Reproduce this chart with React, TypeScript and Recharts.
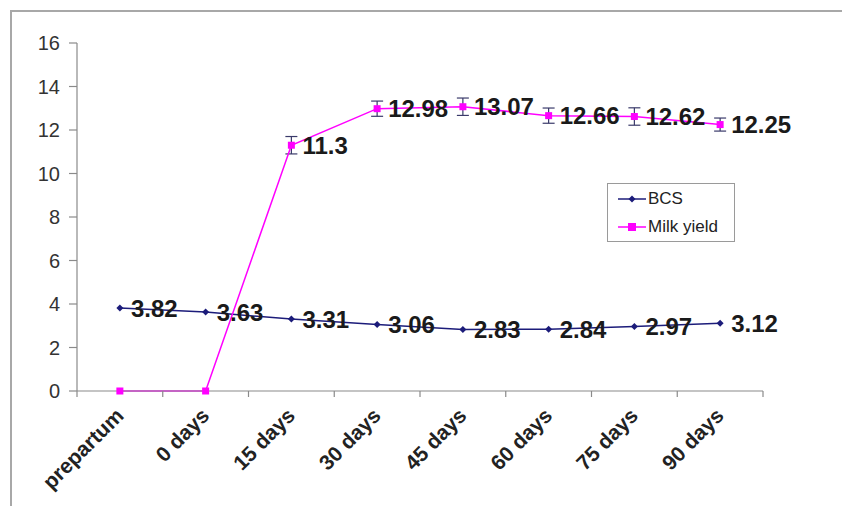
import React from "react"
import { LineChart, Line, XAxis, YAxis, ErrorBar, LabelList } from "recharts"

const categories = ["prepartum", "0 days", "15 days", "30 days", "45 days", "60 days", "75 days", "90 days"]
const bcs = [3.82, 3.63, 3.31, 3.06, 2.83, 2.84, 2.97, 3.12]
const milkYield = [0, 0, 11.3, 12.98, 13.07, 12.66, 12.62, 12.25]
const milkError = [null, null, 0.4, 0.35, 0.4, 0.35, 0.4, 0.3]
const yTicks = [0, 2, 4, 6, 8, 10, 12, 14, 16]

const BCS_COLOR = "#1c1c7a"
const MILK_COLOR = "#ff00ff"
const AXIS_COLOR = "#8a8a8a"
const FONT = "'Liberation Sans', Arial, sans-serif"

// each category sits in the middle of its slot, tick marks go on the slot edges
const rows = categories.map((name, i) => ({
  name,
  x: i + 0.5,
  bcs: bcs[i],
  milk: milkYield[i],
  milkErr: milkError[i],
}))
const xTicks = Array.from({ length: categories.length * 2 + 1 }, (_, i) => i / 2)

const CategoryTick = (props: any) => {
  const { x, y, payload } = props
  const v = payload.value as number
  if (Number.isInteger(v)) {
    return <line x1={x} y1={y} x2={x} y2={y + 6} stroke={AXIS_COLOR} strokeWidth={1.2} />
  }
  const label = categories[Math.floor(v)]
  const tx = x + 5
  const ty = y + 26
  return (
    <text
      x={tx}
      y={ty}
      transform={`rotate(-45, ${tx}, ${ty})`}
      textAnchor="end"
      fontFamily={FONT}
      fontSize={21}
      fontWeight="bold"
      fill="#222"
    >
      {label}
    </text>
  )
}

const Diamond = (props: any) => {
  const { cx, cy } = props
  if (cx == null || cy == null) return null
  return <path d={`M${cx},${cy - 3.5}L${cx + 3.5},${cy}L${cx},${cy + 3.5}L${cx - 3.5},${cy}Z`} fill={BCS_COLOR} />
}

const Square = (props: any) => {
  const { cx, cy } = props
  if (cx == null || cy == null) return null
  return <rect x={cx - 3.5} y={cy - 3.5} width={7} height={7} fill={MILK_COLOR} />
}

const ValueLabel = (props: any) => {
  const { x, y, value } = props
  if (!value) return null
  return (
    <text x={x + 11} y={y} dy="0.36em" fontFamily={FONT} fontSize={24} fontWeight="bold" fill="#1a1a1a">
      {value}
    </text>
  )
}

function ChartLegend() {
  const item = (label: string, color: string, square: boolean) => (
    <div style={{ display: "flex", alignItems: "center", height: 28 }}>
      <svg width={30} height={12}>
        <line x1={1} y1={6} x2={29} y2={6} stroke={color} strokeWidth={1.5} />
        {square ? (
          <rect x={11} y={2} width={8} height={8} fill={color} />
        ) : (
          <path d="M15,2.5L18.5,6L15,9.5L11.5,6Z" fill={color} />
        )}
      </svg>
      <span style={{ marginLeft: 1 }}>{label}</span>
    </div>
  )
  return (
    <div
      style={{
        position: "absolute",
        left: 607,
        top: 183,
        width: 128,
        height: 59,
        border: "1px solid #9a9a9a",
        background: "#fff",
        boxSizing: "border-box",
        padding: "1px 0 0 9px",
        fontFamily: FONT,
        fontSize: 17,
        color: "#222",
      }}
    >
      {item("BCS", BCS_COLOR, false)}
      {item("Milk yield", MILK_COLOR, true)}
    </div>
  )
}

export default function App() {
  return (
    <div style={{ position: "absolute", left: 0, top: 0, width: 842, height: 506, background: "#fff", overflow: "hidden" }}>
      <style>{"body{margin:0;overflow:hidden}"}</style>
      <div
        style={{
          position: "absolute",
          left: 10,
          top: 10,
          width: 832,
          height: 496,
          boxSizing: "border-box",
          borderLeft: "2px solid #a8a8a8",
          borderTop: "2px solid #a8a8a8",
        }}
      />
      <LineChart
        width={842}
        height={506}
        data={rows}
        margin={{ top: 43, right: 79, bottom: 0, left: 0 }}
        style={{ position: "absolute", left: 0, top: 0 }}
      >
        <XAxis
          dataKey="x"
          type="number"
          domain={[0, categories.length]}
          ticks={xTicks}
          interval={0}
          height={115}
          tickSize={0}
          tickMargin={0}
          tickLine={false}
          axisLine={{ stroke: AXIS_COLOR, strokeWidth: 1.2 }}
          tick={<CategoryTick />}
        />
        <YAxis
          domain={[0, 16]}
          ticks={yTicks}
          interval={0}
          width={77}
          tickSize={8}
          tickMargin={9}
          axisLine={{ stroke: AXIS_COLOR, strokeWidth: 1.2 }}
          tickLine={{ stroke: AXIS_COLOR, strokeWidth: 1.2 }}
          tick={{ fill: "#333", fontSize: 20, fontFamily: FONT }}
        />
        <Line
          dataKey="bcs"
          stroke={BCS_COLOR}
          strokeWidth={1.5}
          dot={<Diamond />}
          activeDot={false}
          isAnimationActive={false}
        >
          <LabelList dataKey="bcs" content={<ValueLabel />} />
        </Line>
        <Line
          dataKey="milk"
          stroke={MILK_COLOR}
          strokeWidth={1.5}
          dot={<Square />}
          activeDot={false}
          isAnimationActive={false}
        >
          <ErrorBar dataKey="milkErr" width={6} stroke="#3a3a6a" strokeWidth={1.2} direction="y" />
          <LabelList dataKey="milk" content={<ValueLabel />} />
        </Line>
      </LineChart>
      <ChartLegend />
    </div>
  )
}
